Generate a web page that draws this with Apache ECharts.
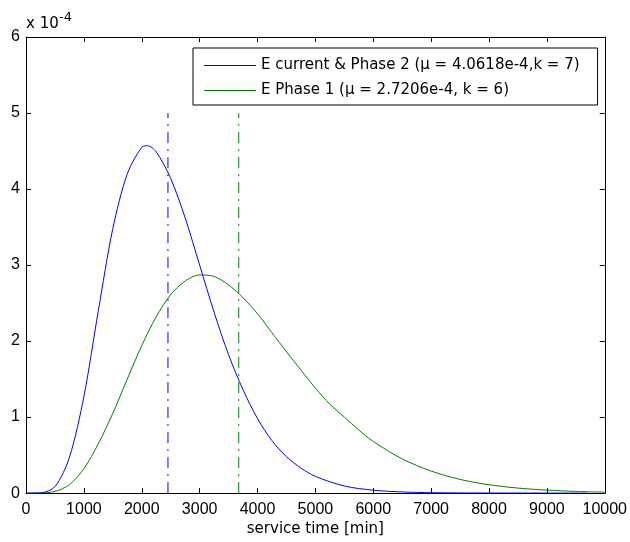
<!DOCTYPE html>
<html>
<head>
<meta charset="utf-8">
<script src="https://cdn.jsdelivr.net/npm/echarts@6/dist/echarts.min.js"></script>
<style>
html,body{margin:0;padding:0;background:#fff;}
#chart{width:630px;height:542px;}
</style>
</head>
<body>
<div id="chart"></div>
<script>
// service time [min] and density (units of 1e-4)
var blueTime = [0,250,500,750,1000,1250,1500,1750,2000,2100,2250,2500,2750,3000,3250,3500,3750,4000,4250,4500,4750,5000,5500,6000,6500,7000,7500,8000,9000,9700];
var blueDensity = [0,0.003,0.085,0.47,1.27,2.40,3.48,4.20,4.55,4.57,4.49,4.14,3.62,3.00,2.38,1.82,1.36,0.98,0.69,0.48,0.33,0.22,0.093,0.038,0.015,0.0055,0.002,0.001,0,0];
var greenTime = [0,250,500,750,1000,1250,1500,1750,2000,2250,2500,2750,3000,3250,3500,3750,4000,4250,4500,4750,5000,5250,5500,5750,6000,6500,7000,7500,8000,8500,9000,9500,10000];
var greenDensity = [0,0.001,0.022,0.11,0.32,0.65,1.05,1.50,1.94,2.32,2.61,2.79,2.87,2.85,2.74,2.57,2.36,2.11,1.86,1.62,1.38,1.17,1.00,0.83,0.68,0.45,0.29,0.18,0.11,0.066,0.039,0.022,0.013];
var meanTimes = [2453, 3676];
var meanLineSpan = [0, 5];
var seriesNames = ['E current & Phase 2 (\u03bc = 4.0618e-4,k = 7)', 'E Phase 1 (\u03bc = 2.7206e-4, k = 6)'];
var xTicks = [0,1000,2000,3000,4000,5000,6000,7000,8000,9000,10000];
var yTicks = [0,1,2,3,4,5,6];
var scaleTitle = 'x 10';
var scaleExp = '-4';

function pairs(xs, ys){ return xs.map(function(x,i){ return [x, ys[i]]; }); }

var TICKFONT = 'Liberation Sans, Arial, sans-serif';
var TEXTFONT = 'DejaVu Sans, sans-serif';
var BLUE = '#0000ff', GREEN = '#008000';
var chart = echarts.init(document.getElementById('chart'), null, {renderer:'canvas'});
function meanSeries(id, x, color){
  return {
    id:id, type:'line', silent:true, symbol:'none', z:1,
    data:meanLineSpan.map(function(y){ return [x, y]; }),
    lineStyle:{color:color, width:1, type:[11,6,2,6]},
    itemStyle:{color:color}
  };
}
function axisCommon(){
  return {
    axisLine:{show:true, onZero:false, lineStyle:{color:'#000', width:1}},
    axisTick:{show:true, inside:true, length:5, lineStyle:{color:'#000'}},
    splitLine:{show:false}
  };
}
chart.setOption({
  animation:false,
  backgroundColor:'#fff',
  grid:{left:26, right:23, top:37, bottom:47, containLabel:false},
  legend:{
    data:seriesNames,
    orient:'vertical', left:193, top:48,
    icon:'rect',
    backgroundColor:'#fff', borderColor:'#000', borderWidth:1, borderRadius:0,
    padding:[10,18,7,11], itemGap:10, itemWidth:52, itemHeight:1,
    textStyle:{fontFamily:TEXTFONT, fontSize:15, color:'#000', lineHeight:15}
  },
  xAxis:[
    Object.assign({type:'value', min:0, max:10000, interval:1000, position:'bottom',
      name:'service time [min]', nameLocation:'middle', nameGap:26,
      nameTextStyle:{fontFamily:TEXTFONT, fontSize:15, color:'#000'},
      axisLabel:{fontFamily:TICKFONT, fontSize:16, color:'#000', margin:8,
        formatter:function(v){ return String(v); }}}, axisCommon()),
    Object.assign({type:'value', min:0, max:10000, interval:1000, position:'top',
      axisLabel:{show:false}}, axisCommon())
  ],
  yAxis:[
    Object.assign({type:'value', min:0, max:6, interval:1, position:'left',
      axisLabel:{fontFamily:TICKFONT, fontSize:16, color:'#000', margin:6,
        formatter:function(v){ return String(v); }}}, axisCommon()),
    Object.assign({type:'value', min:0, max:6, interval:1, position:'right',
      axisLabel:{show:false}}, axisCommon())
  ],
  graphic:[
    {type:'text', left:26, top:17, style:{text:scaleTitle, fontFamily:TEXTFONT, fontSize:15, fill:'#000'}},
    {type:'text', left:59, top:11, style:{text:scaleExp, fontFamily:TEXTFONT, fontSize:13, fill:'#000'}}
  ],
  series:[
    {name:seriesNames[0], type:'line', data:pairs(blueTime, blueDensity), z:3,
     symbol:'none', smooth:0.3, lineStyle:{color:BLUE, width:1}, itemStyle:{color:BLUE}},
    {name:seriesNames[1], type:'line', data:pairs(greenTime, greenDensity), z:2,
     symbol:'none', smooth:0.3, lineStyle:{color:GREEN, width:1}, itemStyle:{color:GREEN}},
    meanSeries('meanBlue', meanTimes[0], BLUE),
    meanSeries('meanGreen', meanTimes[1], GREEN)
  ]
});
</script>
</body>
</html>
